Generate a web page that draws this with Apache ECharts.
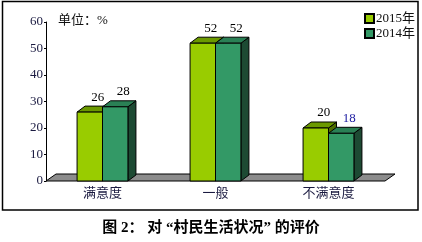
<!DOCTYPE html>
<html><head><meta charset="utf-8">
<script src="https://cdn.jsdelivr.net/npm/echarts@6/dist/echarts.min.js"></script>
<style>html,body{margin:0;padding:0;background:#fff}#c{width:422px;height:242px}</style>
</head><body><div id="c"></div>
<script>
const categories = ['满意度', '一般', '不满意度'];
const seriesNames = ['2015年', '2014年'];
const values2015 = [26, 52, 20];
const values2014 = [28, 52, 18];
const yTicks = [0, 10, 20, 30, 40, 50, 60];
const labelColors2015 = ['#000', '#000', '#000'];
const labelColors2014 = ['#000', '#000', '#1a1aa0'];

const FONT = '"Liberation Serif", "Noto Sans CJK SC", serif';
const palette = [
  {front: '#99cc00', top: '#6b9900', side: '#4d6e00'},
  {front: '#339966', top: '#2a8055', side: '#1d4a33'}
];
const DX = 8, DY = 6;

function barRenderer(idx, labelColors) {
  return function (params, api) {
    const cat = api.value(0), val = api.value(1);
    const top = api.coord([cat, val]);
    const base = api.coord([cat, 0]);
    const cw = api.size([1, 0])[0];
    const bw = cw * 0.225;
    const x0 = top[0] + (idx === 0 ? -bw : 0);
    const x1 = x0 + bw;
    const yT = top[1], yB = base[1];
    const c = palette[idx];
    const ls = {stroke: '#000', lineWidth: 1};
    return {
      type: 'group',
      children: [
        {type: 'polygon', shape: {points: [[x1, yB], [x1 + DX, yB - DY], [x1 + DX, yT - DY], [x1, yT]]},
          style: Object.assign({fill: c.side}, ls)},
        {type: 'polygon', shape: {points: [[x0, yT], [x1, yT], [x1 + DX, yT - DY], [x0 + DX, yT - DY]]},
          style: Object.assign({fill: c.top}, ls)},
        {type: 'rect', shape: {x: x0, y: yT, width: bw, height: yB - yT},
          style: Object.assign({fill: c.front}, ls)},
        {type: 'text', x: (x0 + x1) / 2 + 8, y: yT - 15, z2: 10,
          style: {text: String(val), fill: labelColors[params.dataIndex], font: '13px ' + FONT, align: 'center', verticalAlign: 'middle'}}
      ]
    };
  };
}

function floorRenderer(params, api) {
  const cs = params.coordSys;
  const yB = cs.y + cs.height;
  return {
    type: 'polygon',
    shape: {points: [[cs.x, yB], [cs.x + cs.width, yB], [cs.x + cs.width + 10, yB - 7], [cs.x + 10, yB - 7]]},
    style: {fill: '#8c8c8c', stroke: '#000', lineWidth: 1}
  };
}

const chart = echarts.init(document.getElementById('c'), null, {renderer: 'canvas'});
chart.setOption({
  animation: false,
  backgroundColor: '#fff',
  textStyle: {fontFamily: FONT},
  grid: {left: 46, right: 37, top: 22, bottom: 61},
  graphic: [
    {type: 'rect', shape: {x: 2.5, y: 1.5, width: 415.5, height: 208.5}, style: {fill: 'none', stroke: '#000', lineWidth: 1.5}, z: -10},
    {type: 'text', left: 58, top: 14, style: {text: '单位：%', font: '13px ' + FONT, fill: '#111'}},
    {type: 'text', left: 'center', top: 221, style: {text: '图 2： 对 “村民生活状况” 的评价', font: 'bold 15px ' + FONT, fill: '#000'}}
  ],
  legend: {
    orient: 'vertical', left: 359, top: 7, itemWidth: 9, itemHeight: 9, itemGap: 2,
    icon: 'rect',
    textStyle: {fontSize: 13, color: '#111', fontFamily: FONT, padding: [0, 0, 0, -3]},
    data: seriesNames
  },
  xAxis: {
    type: 'category', data: categories,
    axisLine: {show: false}, axisTick: {show: false},
    axisLabel: {fontSize: 13, color: '#1a1a40', margin: 5, fontFamily: '"Noto Sans CJK SC", sans-serif'}
  },
  yAxis: {
    type: 'value', min: 0, max: 60, interval: 10,
    axisLine: {show: true, lineStyle: {color: '#000', width: 1}},
    axisTick: {show: true, length: 2, lineStyle: {color: '#000'}},
    splitLine: {show: false},
    axisLabel: {fontSize: 13, color: '#1a1a40', margin: 3, fontFamily: FONT,
      formatter: v => yTicks.includes(v) ? String(v) : ''}
  },
  series: [
    {type: 'custom', name: '__floor', renderItem: floorRenderer, data: [[0, 0]], z: 1, silent: true, legendHoverLink: false},
    {type: 'custom', name: seriesNames[0], renderItem: barRenderer(0, labelColors2015),
      itemStyle: {color: palette[0].front, borderColor: '#000', borderWidth: 1},
      encode: {x: 0, y: 1}, data: values2015.map((v, i) => [i, v]), z: 2},
    {type: 'custom', name: seriesNames[1], renderItem: barRenderer(1, labelColors2014),
      itemStyle: {color: palette[1].front, borderColor: '#000', borderWidth: 1},
      encode: {x: 0, y: 1}, data: values2014.map((v, i) => [i, v]), z: 3}
  ]
});
</script></body></html>
